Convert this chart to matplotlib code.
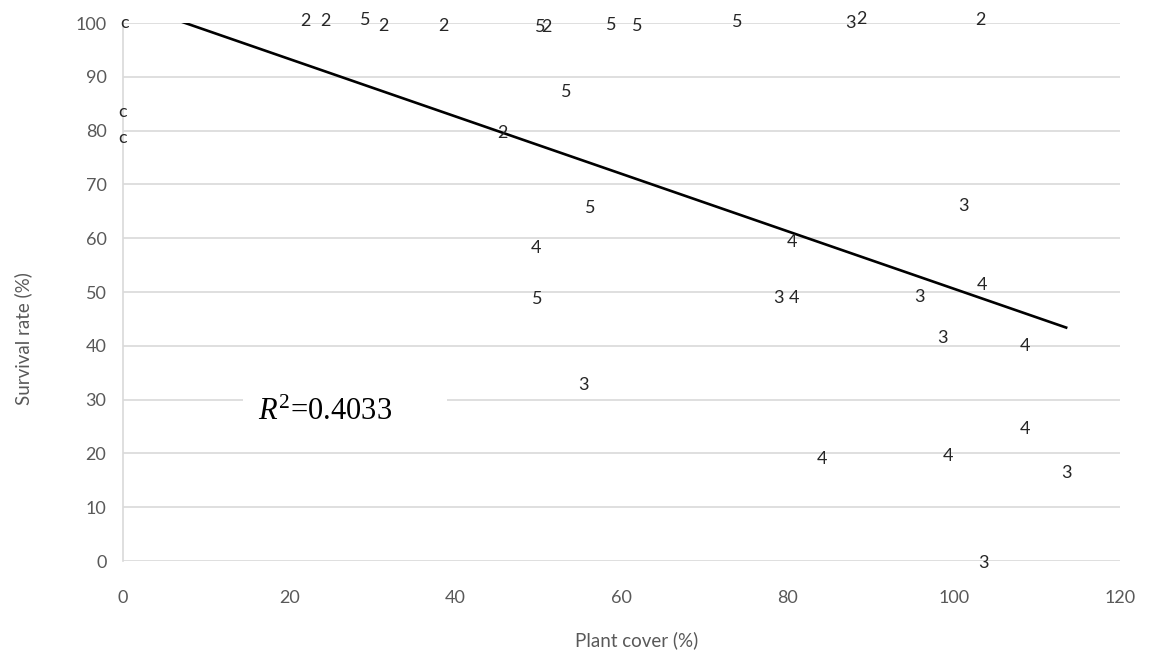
import numpy as np
import matplotlib
matplotlib.use("Agg")
import matplotlib.pyplot as plt
from matplotlib.patches import Rectangle

# plant cover (%), survival rate (%), and the label shown at each point
cover = [0.2, 0.0, 0.0, 21.9, 24.3, 29.1, 31.3, 38.5, 50.2, 51.0, 58.8, 61.9,
         73.9, 87.6, 88.8, 103.2, 53.3, 45.7, 56.2, 49.7, 49.8, 55.4,
         101.1, 80.5, 78.9, 80.7, 95.9, 103.4, 98.6, 108.5, 108.5, 84.1,
         99.3, 113.5, 103.5]
survival = [100.0, 83.5, 78.6, 100.3, 100.3, 100.6, 99.4, 99.4, 99.3, 99.3, 99.6, 99.4,
            100.2, 100.0, 100.7, 100.5, 87.2, 79.5, 65.6, 58.2, 48.7, 32.7,
            66.0, 59.3, 48.9, 48.9, 49.1, 51.3, 41.4, 40.0, 24.5, 19.0,
            19.5, 16.4, -0.4]
labels = ["c", "c", "c", "2", "2", "5", "2", "2", "5", "2", "5", "5",
          "5", "3", "2", "2", "5", "2", "5", "4", "5", "3",
          "3", "4", "3", "4", "3", "4", "3", "4", "4", "4",
          "4", "3", "3"]

# linear trendline as shown in the chart
trend_slope = -0.534
trend_intercept = 104.0
r2_text = r"$R^{2}$=0.4033"

plt.rcParams["font.family"] = ["Lato", "DejaVu Sans"]
plt.rcParams["mathtext.fontset"] = "custom"
plt.rcParams["mathtext.it"] = "Liberation Serif:italic"
plt.rcParams["mathtext.rm"] = "Liberation Serif"

fig = plt.figure(figsize=(11.51, 6.58), dpi=100)
ax = fig.add_axes([0.1069, 0.1474, 0.8663, 0.8176])

for x, y, s in zip(cover, survival, labels):
    ax.text(x, y, s, ha="center", va="center", fontsize=13, color="#262626", zorder=4)

xs = np.array([0, max(cover)])
ax.plot(xs, trend_intercept + trend_slope * xs, color="black", lw=1.9, zorder=3)

# white text box behind the R² label (hides the gridline like the original)
ax.add_patch(Rectangle((14.4, 23.5), 24.6, 9, facecolor="white", edgecolor="none", zorder=1))
ax.text(16.2, 27.7, r2_text, fontsize=22, family="Liberation Serif", va="center", zorder=2)

ax.set_xlim(0, 120)
ax.set_ylim(0, 100)
ax.set_xticks(range(0, 121, 20))
ax.set_yticks(range(0, 101, 10))
ax.grid(axis="y", color="#d9d9d9", lw=1.2, zorder=0)
ax.set_axisbelow(True)
for side in ["top", "right", "bottom"]:
    ax.spines[side].set_visible(False)
ax.spines["left"].set_color("#d9d9d9")
ax.spines["left"].set_linewidth(1.2)
ax.tick_params(length=0, labelsize=13, labelcolor="#595959")
ax.tick_params(axis="x", pad=21)
ax.tick_params(axis="y", pad=12)

ax.set_xlabel("Plant cover (%)", fontsize=13.5, color="#595959", va="center")
ax.xaxis.set_label_coords(0.515, -0.147)
ax.set_ylabel("Survival rate (%)", fontsize=13.5, color="#595959", va="center")
ax.yaxis.set_label_coords(-0.100, 0.414)

fig.savefig("out.png", dpi=100)
